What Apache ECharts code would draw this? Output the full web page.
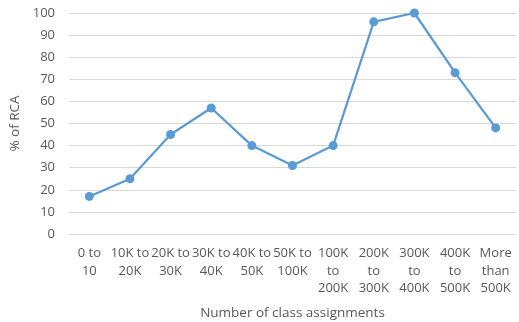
<!DOCTYPE html>
<html>
<head>
<meta charset="utf-8">
<script src="https://cdn.jsdelivr.net/npm/echarts@6/dist/echarts.min.js"></script>
<style>
html,body{margin:0;padding:0;background:#fff;}
#chart{width:519px;height:322px;}
</style>
</head>
<body>
<div id="chart"></div>
<script>
// Category labels (line breaks mirror the wrapped axis text)
const categories = [
  "0 to\n10", "10K to\n20K", "20K to\n30K", "30K to\n40K", "40K to\n50K",
  "50K to\n100K", "100K\nto\n200K", "200K\nto\n300K", "300K\nto\n400K",
  "400K\nto\n500K", "More\nthan\n500K"
];
// Share of RCA per bucket (%)
const rcaPercent = [17, 25, 45, 57, 40, 31, 40, 96, 100, 73, 48];
const yTicks = { min: 0, max: 100, interval: 10 };

const font = "'Open Sans', 'Liberation Sans', sans-serif";
const chart = echarts.init(document.getElementById('chart'));
chart.setOption({
  animation: false,
  grid: { left: 69, right: 3, top: 13, bottom: 88, containLabel: false, outerBoundsMode: 'none' },
  xAxis: {
    type: 'category',
    data: categories,
    boundaryGap: true,
    name: 'Number of class assignments',
    nameLocation: 'middle',
    nameGap: 72,
    nameTextStyle: { fontFamily: font, fontSize: 13.5, color: '#595959' },
    axisLine: { show: true, lineStyle: { color: '#d9d9d9', width: 1 } },
    axisTick: { show: false },
    axisLabel: {
      interval: 0, fontFamily: font, fontSize: 13, color: '#595959',
      lineHeight: 17.5, margin: 11
    }
  },
  yAxis: {
    type: 'value',
    min: yTicks.min, max: yTicks.max, interval: yTicks.interval,
    name: '% of RCA',
    nameLocation: 'middle',
    nameGap: 37,
    nameTextStyle: { fontFamily: font, fontSize: 13.5, color: '#595959' },
    axisLine: { show: false },
    axisTick: { show: false },
    axisLabel: { fontFamily: font, fontSize: 13, color: '#595959', margin: 14 },
    splitLine: { lineStyle: { color: '#d9d9d9', width: 1 } }
  },
  series: [{
    type: 'line',
    data: rcaPercent,
    symbol: 'circle',
    symbolSize: 9,
    itemStyle: { color: '#5B9BD5' },
    lineStyle: { color: '#5B9BD5', width: 2.25 }
  }]
});
</script>
</body>
</html>
